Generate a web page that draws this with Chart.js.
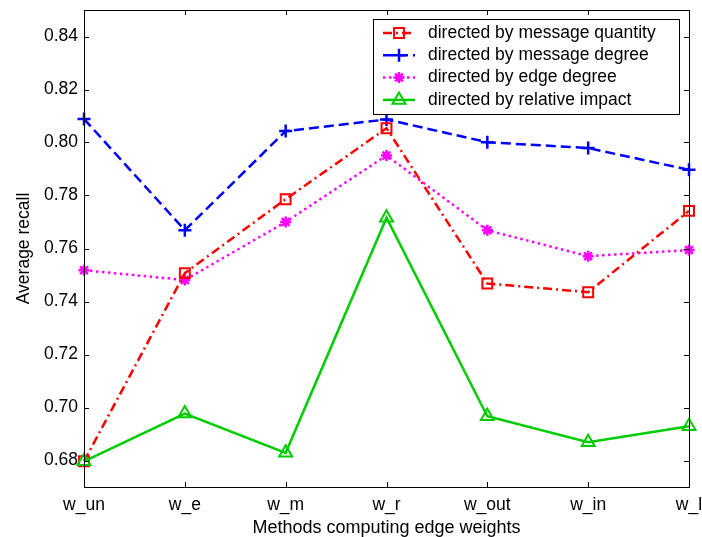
<!DOCTYPE html>
<html>
<head>
<meta charset="utf-8">
<script src="https://cdn.jsdelivr.net/npm/chart.js@4"></script>
<style>
  html, body { margin: 0; padding: 0; background: #fff; }
  canvas { display: block; }
</style>
</head>
<body>
<canvas id="recallChart" width="702" height="537"></canvas>
<script>
// values
const categories = ['w_un', 'w_e', 'w_m', 'w_r', 'w_out', 'w_in', 'w_l'];
const msgQuantity = [0.6797, 0.7507, 0.7786, 0.8054, 0.7468, 0.7435, 0.7742];
const msgDegree = [0.8089, 0.7669, 0.8043, 0.8087, 0.8001, 0.7979, 0.7897];
const edgeDegree = [0.7518, 0.7481, 0.7700, 0.7951, 0.7669, 0.7571, 0.7594];
const relImpact = [0.6797, 0.6977, 0.6829, 0.7716, 0.6967, 0.6869, 0.6929];
const yTicks = [0.68, 0.70, 0.72, 0.74, 0.76, 0.78, 0.80, 0.82, 0.84];

const FONT = "'Liberation Sans', Arial, sans-serif";
const FSIZE = 17.5;

const recallData = {
  labels: categories,
  datasets: [
    {
      label: 'directed by message quantity',
      data: msgQuantity,
      borderColor: '#ff0000',
      backgroundColor: 'rgba(0,0,0,0)',
      borderWidth: 2.5,
      borderDash: [9, 4, 2, 4],
      pointStyle: 'rect',
      pointRadius: 7,
      pointBorderWidth: 2,
      order: 2
    },
    {
      label: 'directed by message degree',
      data: msgDegree,
      borderColor: '#0000ff',
      backgroundColor: 'rgba(0,0,0,0)',
      borderWidth: 2.5,
      borderDash: [10, 5],
      pointStyle: 'cross',
      pointRadius: 6.5,
      pointBorderWidth: 2.5,
      order: 3
    },
    {
      label: 'directed by edge degree',
      data: edgeDegree,
      borderColor: '#ff00ff',
      backgroundColor: '#ff00ff',
      borderWidth: 2.5,
      borderDash: [2.5, 3.5],
      pointStyle: 'star',
      pointRadius: 5.5,
      pointBorderWidth: 2.5,
      order: 4
    },
    {
      label: 'directed by relative impact',
      data: relImpact,
      borderColor: '#00cc00',
      backgroundColor: 'rgba(0,0,0,0)',
      borderWidth: 2.5,
      borderDash: [],
      pointStyle: 'triangle',
      pointRadius: 7.5,
      pointBorderWidth: 2,
      order: 1
    }
  ]
};

// matlab style box with inward ticks on all sides
const boxPlugin = {
  id: 'boxPlugin',
  afterDatasetsDraw(chart) {
    const ctx = chart.ctx;
    const a = chart.chartArea;
    const xs = chart.scales.x, ys = chart.scales.y;
    ctx.save();
    ctx.strokeStyle = '#000';
    ctx.lineWidth = 1;
    ctx.setLineDash([]);
    ctx.strokeRect(a.left + 0.5, a.top + 0.5, a.right - a.left, a.bottom - a.top);
    ctx.beginPath();
    xs.ticks.forEach((t, i) => {
      const x = Math.round(xs.getPixelForTick(i)) + 0.5;
      ctx.moveTo(x, a.bottom); ctx.lineTo(x, a.bottom - 5);
      ctx.moveTo(x, a.top); ctx.lineTo(x, a.top + 5);
    });
    yTicks.forEach(v => {
      const y = Math.round(ys.getPixelForValue(v)) + 0.5;
      ctx.moveTo(a.left, y); ctx.lineTo(a.left + 5, y);
      ctx.moveTo(a.right, y); ctx.lineTo(a.right - 5, y);
    });
    ctx.stroke();
    ctx.restore();
  },
  afterDraw(chart) {
    // legend box
    const ctx = chart.ctx;
    const lx = 373, ly = 19, lw = 306, lh = 95;
    ctx.save();
    ctx.fillStyle = '#fff';
    ctx.fillRect(lx, ly, lw, lh);
    ctx.strokeStyle = '#000';
    ctx.lineWidth = 1;
    ctx.strokeRect(lx + 0.5, ly + 0.5, lw, lh);
    chart.data.datasets.forEach((ds, i) => {
      const y = ly + 14 + i * 22.3;
      ctx.strokeStyle = ds.borderColor;
      ctx.lineWidth = ds.borderWidth;
      ctx.setLineDash(ds.borderDash);
      ctx.beginPath();
      ctx.moveTo(383, y);
      ctx.lineTo(415, y);
      ctx.stroke();
      ctx.setLineDash([]);
      ctx.fillStyle = ds.backgroundColor;
      ctx.lineWidth = ds.pointBorderWidth;
      Chart.helpers.drawPoint(ctx, {
        pointStyle: ds.pointStyle,
        rotation: 0,
        radius: ds.pointRadius,
        borderWidth: ds.pointBorderWidth
      }, 399, y);
      ctx.fillStyle = '#000';
      ctx.font = FSIZE + 'px ' + FONT;
      ctx.textBaseline = 'middle';
      ctx.textAlign = 'left';
      ctx.fillText(ds.label, 428, y);
    });
    ctx.restore();
  }
};

const recall_config = {
  type: 'line',
  data: recallData,
  options: {
    responsive: false,
    animation: false,
    layout: { padding: { top: 10, right: 13, left: 0, bottom: 0 } },
    plugins: {
      legend: { display: false },
      tooltip: { enabled: false }
    },
    elements: { line: { tension: 0, fill: false } },
    scales: {
      x: {
        type: 'category',
        offset: false,
        grid: { display: false, drawTicks: false },
        border: { display: false },
        ticks: { color: '#000', font: { family: FONT, size: FSIZE }, padding: 8, maxRotation: 0, autoSkip: false },
        title: { display: true, text: 'Methods computing edge weights', color: '#000',
                 font: { family: FONT, size: 18, lineHeight: 1.0 }, padding: { top: 0, bottom: 0 } },
        afterFit(scale) {
          scale.height = 50;
          scale.paddingLeft = 0;
          scale.paddingRight = 0;
        }
      },
      y: {
        type: 'linear',
        min: 0.67,
        max: 0.85,
        grid: { display: false, drawTicks: false },
        border: { display: false },
        afterBuildTicks(scale) { scale.ticks = yTicks.map(v => ({ value: v })); },
        ticks: { color: '#000', font: { family: FONT, size: FSIZE }, padding: 6,
                 callback: v => v.toFixed(2) },
        title: { display: true, text: 'Average recall', color: '#000',
                 font: { family: FONT, size: FSIZE }, padding: { top: 14, bottom: 0 } },
        afterFit(scale) {
          scale.width = 84;
          scale.paddingTop = 0;
          scale.paddingBottom = 0;
        }
      }
    }
  },
  plugins: [boxPlugin]
};

var recallChart = new Chart(document.getElementById('recallChart'), recall_config);
</script>
</body>
</html>
